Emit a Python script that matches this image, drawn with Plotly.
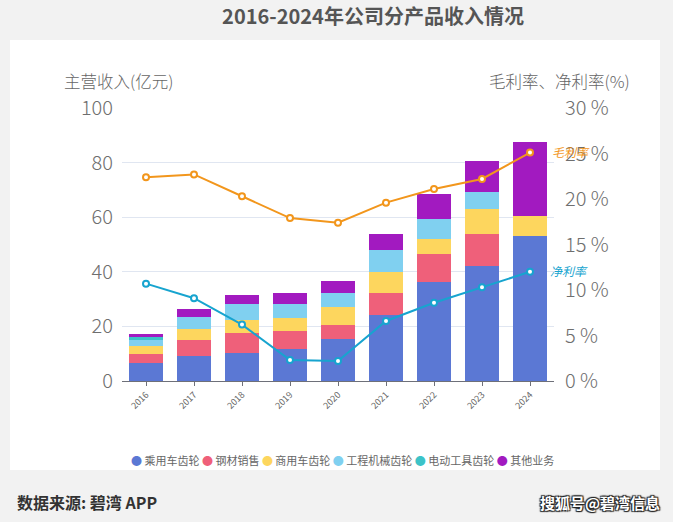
import plotly.graph_objects as go

years = ["2016", "2017", "2018", "2019", "2020", "2021", "2022", "2023", "2024"]
passenger = [6.5, 9.2, 10.4, 11.6, 15.4, 24.3, 36.4, 42.1, 53.1]      # 乘用车齿轮
steel = [3.4, 5.8, 7.3, 6.7, 5.0, 7.8, 10.1, 11.7, 0]                 # 钢材销售
commercial = [2.9, 4.2, 4.6, 4.8, 6.8, 7.9, 5.4, 9.1, 7.3]             # 商用车齿轮
engineering = [2.4, 4.4, 5.9, 5.1, 5.1, 8.0, 7.3, 6.3, 0]              # 工程机械齿轮
powertool = [1.0, 0, 0, 0, 0, 0, 0, 0, 0]                              # 电动工具齿轮
other = [1.0, 2.6, 3.2, 3.9, 4.2, 5.8, 9.2, 11.5, 27.3]                # 其他业务
gross_margin = [22.4, 22.7, 20.3, 17.9, 17.4, 19.6, 21.1, 22.2, 25.1]
net_margin = [10.7, 9.1, 6.2, 2.3, 2.2, 6.6, 8.6, 10.3, 12.0]

series_names = ["乘用车齿轮", "钢材销售", "商用车齿轮", "工程机械齿轮", "电动工具齿轮", "其他业务"]
series_vals = [passenger, steel, commercial, engineering, powertool, other]
colors = ["#5b78d4", "#ef607a", "#fdd65e", "#80d0f0", "#3cc3c8", "#a21ac0"]

FONT = "Noto Sans CJK SC"
W, H = 673, 522
L, R, T, B = 122, 554, 108, 381


def px(x):
    return (x - L) / (R - L)


def py(y):
    return (B - y) / (B - T)


fig = go.Figure()
for name, vals, c in zip(series_names, series_vals, colors):
    fig.add_trace(go.Bar(x=years, y=vals, name=name, marker=dict(color=c, line=dict(width=0)),
                         showlegend=False))

fig.add_trace(go.Scatter(x=years, y=gross_margin, yaxis="y2", mode="lines+markers",
                         line=dict(color="#f2961c", width=2),
                         marker=dict(symbol="circle", size=6, color="white",
                                     line=dict(color="#f2961c", width=2)),
                         showlegend=False, name="毛利率"))
fig.add_trace(go.Scatter(x=years, y=net_margin, yaxis="y2", mode="lines+markers",
                         line=dict(color="#17a4cf", width=2),
                         marker=dict(symbol="circle", size=6, color="white",
                                     line=dict(color="#17a4cf", width=2)),
                         showlegend=False, name="净利率"))

last = len(years) - 1
annotations = []
# end labels
annotations.append(dict(x=last, y=gross_margin[-1], xref="x", yref="y2", text="<i>毛利率</i>",
                        showarrow=False, xanchor="left", xshift=20, yshift=1,
                        font=dict(family=FONT, size=12, color="#f2961c")))
annotations.append(dict(x=last, y=net_margin[-1], xref="x", yref="y2", text="<i>净利率</i>",
                        showarrow=False, xanchor="left", xshift=18, yshift=1,
                        font=dict(family=FONT, size=12, color="#17a4cf")))
# axis titles
annotations.append(dict(x=px(62), y=py(81), xref="paper", yref="paper", text="主营收入(亿元)",
                        showarrow=False, xanchor="left", yanchor="middle",
                        font=dict(family=FONT, size=16.5, color="#666666", weight=300)))
annotations.append(dict(x=px(632), y=py(81), xref="paper", yref="paper", text="毛利率、净利率(%)",
                        showarrow=False, xanchor="right", yanchor="middle",
                        font=dict(family=FONT, size=16.5, color="#666666", weight=300)))
# legend as text
legend_txt = "&nbsp;".join(
    f"<span style='color:{c}'>●</span> {n}" for n, c in zip(series_names, colors))
annotations.append(dict(x=px(342), y=py(460), xref="paper", yref="paper", text=legend_txt,
                        showarrow=False, xanchor="center", yanchor="middle",
                        font=dict(family=FONT, size=11, color="#666666")))
# footer
annotations.append(dict(x=px(15), y=py(502), xref="paper", yref="paper", text="<b>数据来源: 碧湾 APP</b>",
                        showarrow=False, xanchor="left", yanchor="middle",
                        font=dict(family=FONT, size=16, color="#333333")))
annotations.append(dict(x=px(662), y=py(502), xref="paper", yref="paper", text="<b>搜狐号@碧湾信息</b>",
                        showarrow=False, xanchor="right", yanchor="middle",
                        font=dict(family=FONT, size=15, color="#ffffff",
                                  shadow="1px 1px 1px #222, -1px -1px 1px #222, 1px -1px 1px #222, -1px 1px 1px #222")))

fig.update_layout(
    width=W, height=H,
    margin=dict(l=L, r=W - R, t=T, b=H - B, pad=0),
    paper_bgcolor="#f2f2f2",
    plot_bgcolor="white",
    barmode="stack",
    bargap=0.31,
    showlegend=False,
    font=dict(family=FONT),
    title=dict(text="<b>2016-2024年公司分产品收入情况</b>", x=373 / W, y=1 - 17 / H,
               xref="container", yref="container", xanchor="center", yanchor="middle",
               font=dict(family=FONT, size=20, color="#555555")),
    xaxis=dict(type="category", range=[-0.5, len(years) - 0.5], autorange=False,
               tickangle=-45, showgrid=False, showline=True,
               linecolor="#6e7079", linewidth=1, ticks="outside", ticklen=4, tickcolor="#6e7079",
               tickfont=dict(family=FONT, size=9, color="#666666"), fixedrange=True),
    yaxis=dict(range=[0, 100], dtick=20, showgrid=True, gridcolor="#e0e6f1", zeroline=False,
               showline=False, ticks="", ticklabelstandoff=8,
               tickfont=dict(family=FONT, size=20, color="#6e6e6e", weight=300)),
    yaxis2=dict(range=[0, 30], dtick=5, overlaying="y", side="right", showgrid=False,
                zeroline=False, showline=False, ticks="", ticksuffix=" %", ticklabelstandoff=10,
                tickfont=dict(family=FONT, size=20, color="#6e6e6e", weight=300)),
    annotations=annotations,
    shapes=[dict(type="rect", xref="paper", yref="paper", x0=px(10), x1=px(660),
                 y0=py(470), y1=py(40), fillcolor="white", line=dict(width=0), layer="below")],
)

fig.write_html("out.html")
